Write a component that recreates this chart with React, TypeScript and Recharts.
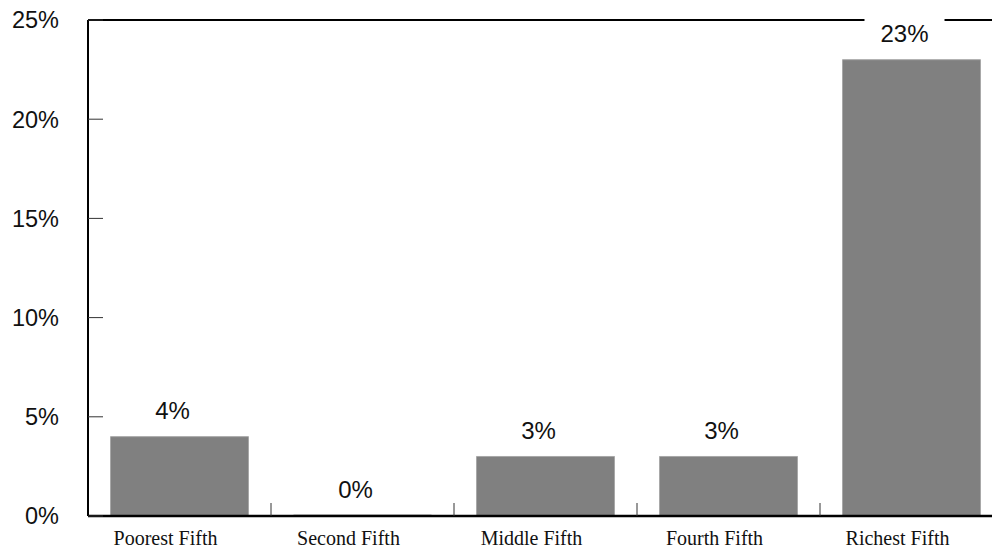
import { BarChart, Bar, XAxis, YAxis, CartesianGrid, LabelList } from "recharts";

const categories = ["Poorest Fifth", "Second Fifth", "Middle Fifth", "Fourth Fifth", "Richest Fifth"];
const shares = [4, 0, 3, 3, 23];
const yTicks = [0, 5, 10, 15, 20, 25];

const data = categories.map((name, i) => ({ name, share: shares[i] }));

const CHART_W = 1010;
const CHART_H = 550;
const Y_AXIS_W = 88;
const MARGIN = { top: 20, right: 7, bottom: 0, left: 0 };
const BAND = (CHART_W - MARGIN.left - MARGIN.right - Y_AXIS_W) / categories.length;

const SANS = "'Liberation Sans', Arial, sans-serif";
const SERIF = "'Liberation Serif', 'Times New Roman', serif";

function YTick(props: any) {
  const { x, y, payload } = props;
  return (
    <g>
      <line x1={x} y1={y} x2={x + 15} y2={y} stroke="#333" strokeWidth={1} />
      <text x={x - 29} y={y} dy="0.36em" textAnchor="end" fontSize={23.5} fontFamily={SANS} fill="#111">
        {payload.value}%
      </text>
    </g>
  );
}

function XTick(props: any) {
  const { x, y, payload, index } = props;
  const half = payload.offset || BAND / 2;
  return (
    <g>
      {index > 0 && <line x1={x - half} y1={y - 13} x2={x - half} y2={y} stroke="#333" strokeWidth={1} />}
      <text x={x - 14} y={y + 29} textAnchor="middle" fontSize={20} fontFamily={SERIF} fill="#111">
        {payload.value}
      </text>
    </g>
  );
}

function ValueLabel(props: any) {
  const { x, y, width, value } = props;
  const text = `${value}%`;
  const cx = x + width / 2 - 7;
  const cy = y - 26;
  const textW = ((text.length - 1) * 0.556 + 0.889) * 24;
  const boxW = textW + 32;
  return (
    <g>
      <rect x={cx - boxW / 2} y={cy - 20} width={boxW} height={40} fill="#fff" />
      <text x={cx} y={cy} dy="0.36em" textAnchor="middle" fontSize={24} fontFamily={SANS} fill="#111">
        {text}
      </text>
    </g>
  );
}

export default function App() {
  return (
    <div style={{ position: "absolute", left: 0, top: 0, width: 992, height: 550, overflow: "hidden", background: "#fff" }}>
      <BarChart width={CHART_W} height={CHART_H} data={data} margin={MARGIN} barCategoryGap="12.3%">
        <CartesianGrid vertical={false} horizontalValues={[25]} stroke="#000" strokeWidth={2} />
        <Bar
          dataKey="share"
          fill="#808080"
          stroke="#a8a8a8"
          strokeWidth={1}
          minPointSize={1}
          isAnimationActive={false}
        >
          <LabelList dataKey="share" content={<ValueLabel />} />
        </Bar>
        <XAxis
          dataKey="name"
          height={34}
          tickSize={0}
          tickMargin={0}
          tickLine={false}
          axisLine={{ stroke: "#000", strokeWidth: 2.5 }}
          tick={<XTick />}
          interval={0}
        />
        <YAxis
          type="number"
          domain={[0, 25]}
          ticks={yTicks}
          width={Y_AXIS_W}
          tickSize={0}
          tickMargin={0}
          tickLine={false}
          axisLine={{ stroke: "#000", strokeWidth: 2 }}
          tick={<YTick />}
          interval={0}
        />
      </BarChart>
    </div>
  );
}
